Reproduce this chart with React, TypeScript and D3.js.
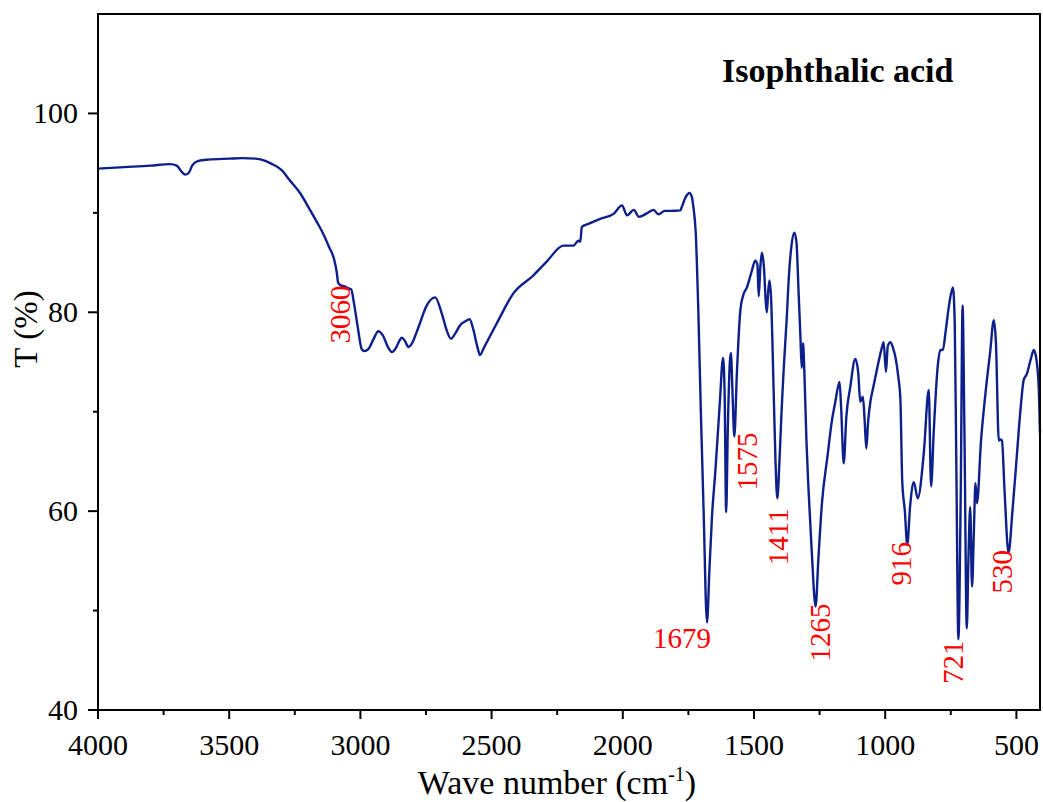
import React from "react";
import * as d3 from "d3";

// FTIR spectrum of isophthalic acid: [wave number (cm-1), transmittance (%)]
const spectrum: [number, number][] = [
  [4000, 94.45], [3900, 94.6], [3800, 94.75], [3725, 94.9], [3700, 94.75],
  [3680, 94.1], [3668, 93.85], [3655, 94.0], [3640, 94.8], [3620, 95.2],
  [3580, 95.35], [3500, 95.45], [3450, 95.5], [3400, 95.45], [3360, 95.2],
  [3340, 94.95], [3300, 94.3], [3270, 93.3], [3230, 92.0], [3190, 90.2],
  [3160, 88.8], [3140, 87.8], [3120, 86.6], [3100, 85.3], [3090, 84.0],
  [3085, 83.0], [3075, 82.7], [3060, 82.6], [3045, 82.4], [3035, 82.3],
  [3025, 81.0], [3010, 78.5], [2995, 76.3], [2985, 76.1], [2970, 76.3],
  [2950, 77.3], [2932, 78.1], [2915, 77.7], [2895, 76.5], [2880, 76.0],
  [2865, 76.4], [2850, 77.2], [2842, 77.45], [2830, 77.1], [2817, 76.5],
  [2805, 76.8], [2780, 78.4], [2747, 80.7], [2715, 81.5], [2690, 79.9],
  [2670, 78.1], [2655, 77.35], [2640, 77.8], [2620, 78.7], [2600, 79.1],
  [2584, 79.3], [2569, 78.2], [2555, 76.6], [2544, 75.7], [2530, 76.4],
  [2480, 78.9], [2417, 81.9], [2341, 83.7], [2290, 85.1], [2226, 86.7],
  [2188, 86.7], [2169, 87.2], [2162, 87.1], [2156, 88.6], [2131, 88.9],
  [2086, 89.4], [2035, 89.9], [2003, 90.75], [1984, 89.75], [1958, 90.3],
  [1939, 89.6], [1905, 90.0], [1883, 90.3], [1864, 89.85], [1840, 90.2],
  [1819, 90.2], [1781, 90.25], [1775, 90.6], [1760, 91.6], [1746, 92.0],
  [1738, 91.7], [1731, 90.6], [1722, 88.0], [1712, 80.0], [1703, 70.5],
  [1692, 60.0], [1679, 48.8], [1670, 54.0], [1660, 59.5], [1647, 64.1],
  [1630, 71.0], [1618, 75.4], [1612, 72.0], [1606, 59.9], [1600, 68.0],
  [1592, 75.0], [1588, 75.9], [1582, 72.0], [1575, 67.5], [1565, 74.0],
  [1552, 80.2], [1540, 81.8], [1527, 82.5], [1510, 84.0], [1495, 85.2],
  [1487, 84.8], [1482, 81.6], [1476, 84.5], [1470, 86.0], [1462, 84.5],
  [1455, 81.0], [1451, 80.0], [1446, 82.0], [1441, 83.2], [1435, 81.5],
  [1425, 72.0], [1418, 65.0], [1411, 61.3], [1403, 65.0], [1395, 70.0],
  [1387, 74.2], [1375, 79.5], [1368, 83.2], [1358, 86.5], [1346, 88.0],
  [1338, 87.0], [1330, 82.0], [1323, 77.5], [1318, 74.4], [1313, 76.9],
  [1308, 74.0], [1300, 67.0], [1292, 62.1], [1280, 56.0], [1265, 50.4],
  [1255, 55.0], [1241, 60.8], [1220, 65.5], [1203, 69.1], [1190, 71.0],
  [1174, 73.0], [1168, 70.5], [1158, 64.8], [1148, 69.5], [1133, 72.5],
  [1114, 75.3], [1103, 74.0], [1095, 71.0], [1085, 71.5], [1078, 69.0],
  [1072, 66.3], [1065, 69.0], [1057, 70.9], [1045, 72.5], [1031, 74.3],
  [1015, 76.2], [1006, 77.0], [997, 74.0], [990, 76.6], [980, 77.0],
  [970, 76.4], [961, 75.5], [950, 73.5], [942, 71.2], [935, 63.0],
  [925, 60.0], [916, 56.6], [905, 60.5], [891, 62.9], [876, 61.3],
  [853, 65.8], [834, 72.2], [825, 62.5], [815, 68.0], [800, 74.5],
  [790, 76.2], [780, 76.2], [770, 78.0], [755, 81.0], [742, 82.5],
  [735, 79.0], [729, 65.0], [721, 47.1], [712, 62.0], [705, 80.7],
  [698, 68.0], [689, 48.2], [683, 55.0], [676, 60.4], [669, 52.4],
  [662, 58.0], [656, 62.8], [650, 60.8], [635, 67.0], [618, 71.8],
  [600, 76.0], [586, 79.2], [578, 77.0], [567, 67.1], [560, 67.2],
  [555, 67.1], [545, 62.0], [530, 55.8], [515, 60.0], [500, 65.0],
  [485, 70.0], [472, 73.2], [460, 73.8], [445, 75.3], [434, 76.2],
  [425, 75.5], [415, 72.5], [410, 67.8],
];

const xMajorTicks = [4000, 3500, 3000, 2500, 2000, 1500, 1000, 500];
const xMinorTicks = [3750, 3250, 2750, 2250, 1750, 1250, 750];
const yMajorTicks = [40, 60, 80, 100];
const yMinorTicks = [50, 70, 90];

// Peak labels: wave number, whether the label is rotated, and a nudge from the peak
const peakLabels: { wn: number; rotated: boolean; dx: number; dy: number }[] = [
  { wn: 3060, rotated: true, dx: 5, dy: -1 },
  { wn: 1679, rotated: false, dx: -25, dy: 25 },
  { wn: 1575, rotated: true, dx: 23, dy: -4 },
  { wn: 1411, rotated: true, dx: 11, dy: 10 },
  { wn: 1265, rotated: true, dx: 14, dy: -3 },
  { wn: 916, rotated: true, dx: 4, dy: -3 },
  { wn: 721, rotated: true, dx: 5, dy: 1 },
  { wn: 530, rotated: true, dx: 3, dy: -3 },
];

const W = 1043;
const H = 802;
const left = 98;
const right = 1040;
const top = 14;
const bottom = 710;

const FONT = "'Liberation Serif', 'Times New Roman', serif";

export default function App() {
  const x = d3.scaleLinear().domain([4000, 410]).range([left, right]);
  const y = d3.scaleLinear().domain([40, 110]).range([bottom, top]);

  const line = d3
    .line<[number, number]>()
    .x((d) => x(d[0]))
    .y((d) => y(d[1]))
    .curve(d3.curveMonotoneX);

  const tAt = (wn: number) => {
    const p = spectrum.find((d) => d[0] === wn);
    return p ? p[1] : 0;
  };

  return (
    <svg
      width={W}
      height={H}
      style={{ position: "absolute", left: 0, top: 0, background: "#fff" }}
      fontFamily={FONT}
    >
      <rect x={0} y={0} width={W} height={H} fill="#fff" />

      {/* spectrum */}
      <path d={line(spectrum) || ""} fill="none" stroke="#0d1f8a" strokeWidth={2.4} strokeLinejoin="round" />

      {/* frame */}
      <rect x={left} y={top} width={right - left} height={bottom - top} fill="none" stroke="#000" strokeWidth={2} />

      {/* x axis ticks */}
      {xMajorTicks.map((t) => (
        <g key={"xM" + t}>
          <line x1={x(t)} x2={x(t)} y1={bottom} y2={bottom + 9} stroke="#000" strokeWidth={2} />
          <text x={x(t)} y={755} textAnchor="middle" fontSize={30} fill="#000">
            {t}
          </text>
        </g>
      ))}
      {xMinorTicks.map((t) => (
        <line key={"xm" + t} x1={x(t)} x2={x(t)} y1={bottom} y2={bottom + 5} stroke="#000" strokeWidth={2} />
      ))}

      {/* y axis ticks */}
      {yMajorTicks.map((t) => (
        <g key={"yM" + t}>
          <line x1={left - 10} x2={left} y1={y(t)} y2={y(t)} stroke="#000" strokeWidth={2} />
          <text x={78} y={y(t) + 10} textAnchor="end" fontSize={30} fill="#000">
            {t}
          </text>
        </g>
      ))}
      {yMinorTicks.map((t) => (
        <line key={"ym" + t} x1={left - 5} x2={left} y1={y(t)} y2={y(t)} stroke="#000" strokeWidth={2} />
      ))}

      {/* axis titles */}
      <text x={557} y={794} textAnchor="middle" fontSize={34} fill="#000">
        Wave number (cm
        <tspan fontSize={20} dy={-13}>-1</tspan>
        <tspan dy={13}>)</tspan>
      </text>
      <text transform={`translate(37,329) rotate(-90)`} textAnchor="middle" fontSize={33} fill="#000">
        T (%)
      </text>

      {/* sample name */}
      <text x={722} y={82} fontSize={34} fontWeight="bold" fill="#000">
        Isophthalic acid
      </text>

      {/* peak labels */}
      {peakLabels.map((p) => {
        const px = x(p.wn) + p.dx;
        const py = y(tAt(p.wn)) + p.dy;
        return p.rotated ? (
          <text
            key={"pk" + p.wn}
            transform={`translate(${px},${py}) rotate(-90)`}
            textAnchor="end"
            fontSize={29}
            fill="#ff0000"
          >
            {p.wn}
          </text>
        ) : (
          <text key={"pk" + p.wn} x={px} y={py} textAnchor="middle" fontSize={29} fill="#ff0000">
            {p.wn}
          </text>
        );
      })}
    </svg>
  );
}
